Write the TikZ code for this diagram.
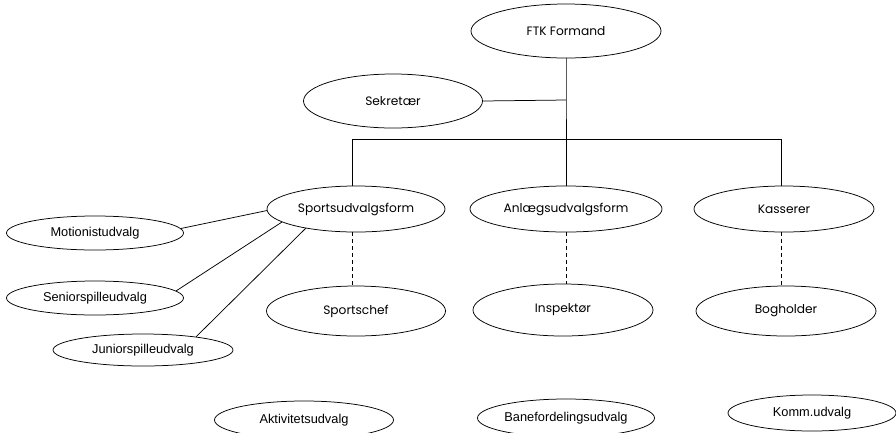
\documentclass[tikz,border=0pt]{standalone}
\usepackage{fontspec}
\setmainfont{Poppins}
\newfontfamily\arialf{Liberation Sans}
\usetikzlibrary{shapes.geometric}
\begin{document}
\begin{tikzpicture}[x=1pt,y=-1pt,
  big/.style={ellipse,draw,line width=0.75pt,inner sep=0pt,font=\fontsize{12.2}{14}\selectfont},
  small/.style={ellipse,draw,line width=0.75pt,inner sep=0pt,font=\arialf\fontsize{12.8}{14}\selectfont},
  conn/.style={line width=0.75pt},
  dconn/.style={line width=0.75pt,dash pattern=on 4pt off 3pt}]
\useasboundingbox (0,0) rectangle (896,432);
% top level
\node[big,minimum width=190pt,minimum height=54pt] (ftk) at (566,31) {FTK Formand};
\node[big,minimum width=179pt,minimum height=54pt] (sek) at (393,101) {Sekretær};
% middle row
\node[big,minimum width=178pt,minimum height=46pt] (spu) at (356,209) {Sportsudvalgsform};
\node[big,minimum width=192pt,minimum height=46pt] (anl) at (566,209) {Anlægsudvalgsform};
\node[big,minimum width=180pt,minimum height=46pt] (kas) at (784,209) {Kasserer};
% lower row
\node[big,minimum width=179pt,minimum height=50pt] (sch) at (356,311) {Sportschef};
\node[big,minimum width=180pt,minimum height=52pt] (ins) at (563,310) {Inspektør};
\node[big,minimum width=180pt,minimum height=50pt] (bog) at (786,311) {Bogholder};
% left small
\node[small,minimum width=177pt,minimum height=34pt] (mot) at (95,233) {Motionistudvalg};
\node[small,minimum width=177pt,minimum height=34pt] (sen) at (95,298) {Seniorspilleudvalg};
\node[small,minimum width=180pt,minimum height=32pt] (jun) at (143,350) {Juniorspilleudvalg};
% bottom small
\node[small,minimum width=179pt,minimum height=38pt] (akt) at (304,420) {Aktivitetsudvalg};
\node[small,minimum width=177pt,minimum height=38pt] (ban) at (566,418) {Banefordelingsudvalg};
\node[small,minimum width=168pt,minimum height=36pt] (kom) at (812,413) {Komm.udvalg};
% junctions
\coordinate (jS) at (566,100);
\coordinate (jB) at (566,139);
\coordinate (bL) at (352,139);
\coordinate (bR) at (781,139);
% connectors
\draw[conn] (ftk.south) -- (jS) -- (jB);
\draw[conn] (sek.east) -- (jS);
\draw[conn] (bL) -- (bR);
\draw[conn] (jB) -- (anl.north);
\draw[conn] (bL) -- (bL |- spu.north);
\draw[conn] (bR) -- (bR |- kas.north);
\draw[dconn] (spu.south -| bL) -- (bL |- sch.north);
\draw[dconn] (anl.south -| jB) -- (jB |- ins.north);
\draw[dconn] (kas.south -| bR) -- (bR |- bog.north);
\draw[conn] (mot.3) -- (spu.181);
\draw[conn] (sen.5) -- (spu.190);
\draw[conn] (jun.14) -- (spu.201);
\end{tikzpicture}
\end{document}
